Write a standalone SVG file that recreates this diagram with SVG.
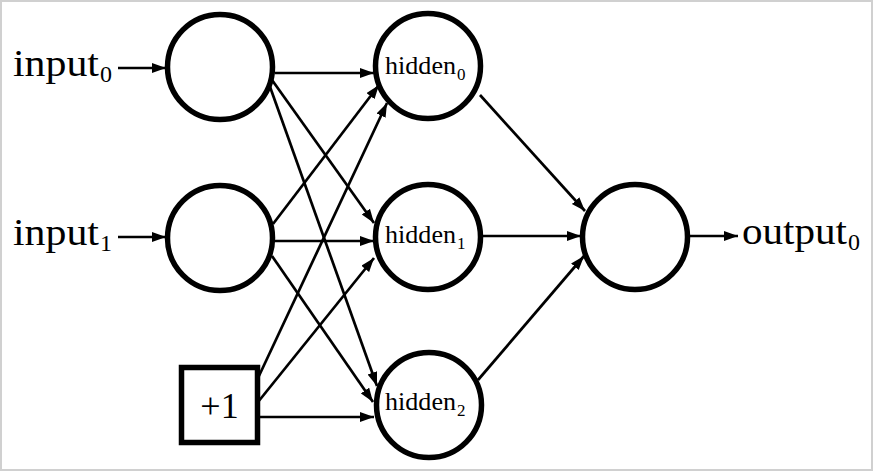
<svg xmlns="http://www.w3.org/2000/svg" width="875" height="472" viewBox="0 0 875 472">
<defs>
<marker id="ah" markerUnits="userSpaceOnUse" markerWidth="15" markerHeight="11" refX="14" refY="5" orient="auto">
<path d="M0,0 L14,5 L0,10 z" fill="#000"/>
</marker>
<style>
.node{fill:#fff;stroke:#000;stroke-width:5.5}
.edge{stroke:#000;stroke-width:2.7;fill:none;marker-end:url(#ah)}
text{font-family:"Liberation Serif","DejaVu Serif",serif;fill:#000}
</style>
</defs>
<rect x="1" y="1" width="871" height="469" fill="#fff" stroke="#d0d0d0" stroke-width="2"/>
<g id="connectors">
<line class="edge" x1="118" y1="68" x2="166" y2="68"/>
<line class="edge" x1="118" y1="237" x2="166" y2="237"/>
<line class="edge" x1="275" y1="73" x2="374" y2="73"/>
<line class="edge" x1="272" y1="80" x2="374" y2="223"/>
<line class="edge" x1="269" y1="84" x2="377" y2="386"/>
<line class="edge" x1="273" y1="224" x2="379" y2="85"/>
<line class="edge" x1="274" y1="241" x2="374" y2="241"/>
<line class="edge" x1="272" y1="256" x2="373" y2="402"/>
<line class="edge" x1="258" y1="378" x2="387" y2="103"/>
<line class="edge" x1="258" y1="402" x2="374" y2="258"/>
<line class="edge" x1="259" y1="417" x2="374" y2="417"/>
<line class="edge" x1="480" y1="95" x2="585" y2="211"/>
<line class="edge" x1="482" y1="236" x2="581" y2="236"/>
<line class="edge" x1="478" y1="380" x2="584" y2="256"/>
<line class="edge" x1="690" y1="236" x2="738" y2="236"/>
</g>
<g id="label_input0"><text font-family="Liberation Serif, serif" x="13" y="76" font-size="38" textLength="86" lengthAdjust="spacingAndGlyphs">input</text><text font-family="Liberation Serif, serif" x="100" y="82" font-size="24">0</text></g>
<g id="label_input1"><text font-family="Liberation Serif, serif" x="13" y="245" font-size="38" textLength="86" lengthAdjust="spacingAndGlyphs">input</text><text font-family="Liberation Serif, serif" x="100" y="251" font-size="24">1</text></g>
<g id="input0"><circle class="node" cx="220" cy="67" r="52.5"/></g>
<g id="input1"><circle class="node" cx="220" cy="238" r="52.5"/></g>
<g id="bias"><rect class="node" x="181.5" y="367.5" width="76" height="75"/><text font-family="Liberation Serif, serif" x="219.5" y="418" font-size="36" text-anchor="middle">+1</text></g>
<g id="hidden0"><circle class="node" cx="428" cy="66" r="52.5"/><text font-family="Liberation Serif, serif" x="385" y="74" font-size="26" textLength="71" lengthAdjust="spacingAndGlyphs">hidden</text><text font-family="Liberation Serif, serif" x="457" y="80" font-size="17">0</text></g>
<g id="hidden1"><circle class="node" cx="428" cy="237" r="52.5"/><text font-family="Liberation Serif, serif" x="385" y="243" font-size="26" textLength="71" lengthAdjust="spacingAndGlyphs">hidden</text><text font-family="Liberation Serif, serif" x="457" y="249" font-size="17">1</text></g>
<g id="hidden2"><circle class="node" cx="429" cy="405" r="52.5"/><text font-family="Liberation Serif, serif" x="385" y="410" font-size="26" textLength="71" lengthAdjust="spacingAndGlyphs">hidden</text><text font-family="Liberation Serif, serif" x="457" y="416" font-size="17">2</text></g>
<g id="output0"><circle class="node" cx="635" cy="237" r="52.5"/></g>
<g id="label_output0"><text font-family="Liberation Serif, serif" x="742" y="244" font-size="38" textLength="105" lengthAdjust="spacingAndGlyphs">output</text><text font-family="Liberation Serif, serif" x="848" y="250" font-size="24">0</text></g>
</svg>
